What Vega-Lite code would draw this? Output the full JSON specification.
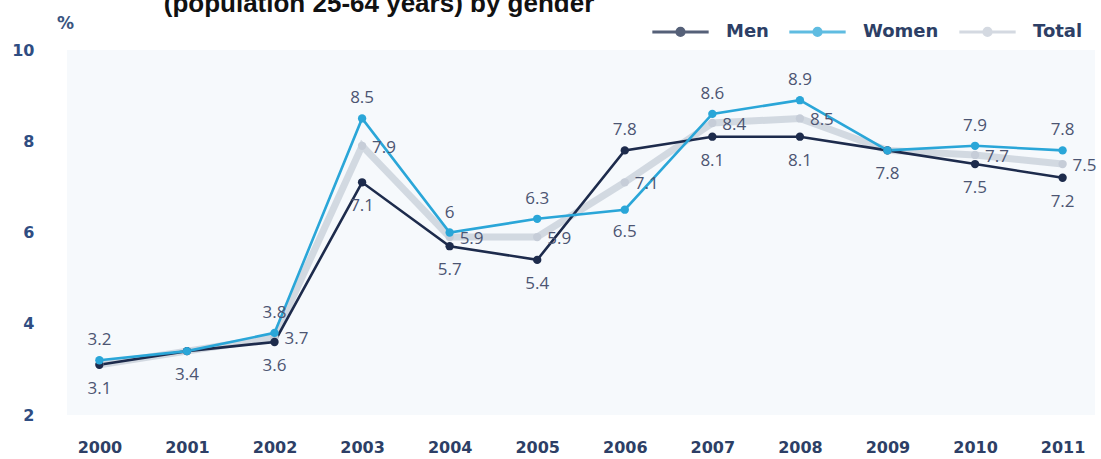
{
  "$schema": "https://vega.github.io/schema/vega-lite/v6.json",
  "width": 1101,
  "height": 459,
  "autosize": {"type": "fit", "contains": "padding"},
  "padding": {"left": -6, "right": 6, "top": -9, "bottom": 4},
  "background": "white",
  "title": {
    "text": "(population 25-64 years) by gender",
    "anchor": "start",
    "dx": 152,
    "fontSize": 26,
    "font": "Liberation Sans",
    "fontWeight": "bold",
    "color": "#111111",
    "offset": -3
  },
  "config": {
    "view": {"fill": "#f6f9fc", "stroke": null},
    "axis": {"grid": false, "domain": false, "ticks": false}
  },
  "data": {
    "values": [
      {"year": "2000", "Men": 3.1, "Women": 3.2, "Total": 3.1},
      {"year": "2001", "Men": 3.4, "Women": 3.4, "Total": 3.4},
      {"year": "2002", "Men": 3.6, "Women": 3.8, "Total": 3.7},
      {"year": "2003", "Men": 7.1, "Women": 8.5, "Total": 7.9},
      {"year": "2004", "Men": 5.7, "Women": 6.0, "Total": 5.9},
      {"year": "2005", "Men": 5.4, "Women": 6.3, "Total": 5.9},
      {"year": "2006", "Men": 7.8, "Women": 6.5, "Total": 7.1},
      {"year": "2007", "Men": 8.1, "Women": 8.6, "Total": 8.4},
      {"year": "2008", "Men": 8.1, "Women": 8.9, "Total": 8.5},
      {"year": "2009", "Men": 7.8, "Women": 7.8, "Total": 7.8},
      {"year": "2010", "Men": 7.5, "Women": 7.9, "Total": 7.7},
      {"year": "2011", "Men": 7.2, "Women": 7.8, "Total": 7.5}
    ]
  },
  "encoding": {
    "x": {
      "field": "year",
      "type": "ordinal",
      "scale": {"type": "point", "padding": 0.37},
      "axis": {
        "title": null,
        "labelAngle": 0,
        "labelFont": "DejaVu Sans",
        "labelFontWeight": "bold",
        "labelFontSize": 16,
        "labelColor": "#2d3f66",
        "labelPadding": 24
      }
    }
  },
  "layer": [
    {
      "transform": [{"fold": ["Total"], "as": ["series", "value"]}],
      "mark": {"type": "line", "strokeWidth": 7, "opacity": 0.75},
      "encoding": {
        "y": {
          "field": "value",
          "type": "quantitative",
          "scale": {"domain": [2, 10], "nice": false, "zero": false},
          "axis": {
            "values": [2, 4, 6, 8, 10],
            "title": "%",
            "titleAngle": 0,
            "titleX": -2,
            "titleY": -18,
            "titleAlign": "center",
            "titleFont": "DejaVu Sans",
            "titleFontSize": 17,
            "titleFontWeight": "bold",
            "titleColor": "#3a557f",
            "labelFont": "DejaVu Sans",
            "labelFontWeight": "bold",
            "labelFontSize": 16,
            "labelColor": "#2f4d82",
            "labelPadding": 33
          }
        },
        "color": {
          "field": "series",
          "type": "nominal",
          "scale": {"domain": ["Men", "Women", "Total"], "range": ["#1d2b4c", "#2aa6d8", "#c6cdd8"]},
          "legend": {
            "title": null,
            "orient": "none",
            "legendX": 589,
            "legendY": -43,
            "direction": "horizontal",
            "symbolType": "M-1.25,0H1.25M0.16,0A0.16,0.16,0,1,1,-0.16,0A0.16,0.16,0,1,1,0.16,0Z",
            "symbolSize": 2030,
            "symbolStrokeWidth": 3,
            "labelFont": "DejaVu Sans",
            "labelFontWeight": "bold",
            "labelFontSize": 18,
            "labelColor": "#2d3f66",
            "labelOffset": 21,
            "columnPadding": 14,
            "encode": {
              "symbols": {
                "update": {
                  "fill": {"scale": "color", "field": "value"},
                  "stroke": {"scale": "color", "field": "value"},
                  "opacity": {"value": 1}
                }
              }
            }
          }
        }
      }
    },
    {
      "transform": [{"fold": ["Men", "Women"], "as": ["series", "value"]}],
      "mark": {"type": "line", "strokeWidth": 2.6},
      "encoding": {
        "y": {"field": "value", "type": "quantitative"},
        "color": {"field": "series", "type": "nominal"}
      }
    },
    {
      "transform": [{"fold": ["Total", "Men", "Women"], "as": ["series", "value"]}],
      "mark": {"type": "circle", "size": 70, "opacity": 1},
      "encoding": {
        "y": {"field": "value", "type": "quantitative"},
        "color": {"field": "series", "type": "nominal"}
      }
    },
    {
      "transform": [{"filter": "datum.Women >= datum.Men && !(datum.Women == datum.Men && datum.Men == datum.Total)"}],
      "mark": {"type": "text", "dy": -20, "fontSize": 17, "font": "Open Sans", "color": "#4c5572"},
      "encoding": {
        "y": {"field": "Women", "type": "quantitative"},
        "text": {"field": "Women", "type": "quantitative", "format": "~g"}
      }
    },
    {
      "transform": [{"filter": "datum.Women < datum.Men"}],
      "mark": {"type": "text", "dy": 22, "fontSize": 17, "font": "Open Sans", "color": "#4c5572"},
      "encoding": {
        "y": {"field": "Women", "type": "quantitative"},
        "text": {"field": "Women", "type": "quantitative", "format": "~g"}
      }
    },
    {
      "transform": [{"filter": "datum.Men <= datum.Women"}],
      "mark": {"type": "text", "dy": 24, "fontSize": 17, "font": "Open Sans", "color": "#4c5572"},
      "encoding": {
        "y": {"field": "Men", "type": "quantitative"},
        "text": {"field": "Men", "type": "quantitative", "format": "~g"}
      }
    },
    {
      "transform": [{"filter": "datum.Men > datum.Women"}],
      "mark": {"type": "text", "dy": -20, "fontSize": 17, "font": "Open Sans", "color": "#4c5572"},
      "encoding": {
        "y": {"field": "Men", "type": "quantitative"},
        "text": {"field": "Men", "type": "quantitative", "format": "~g"}
      }
    },
    {
      "transform": [{"filter": "datum.Total != datum.Men && datum.Total != datum.Women"}],
      "mark": {"type": "text", "align": "left", "dx": 10, "dy": 2, "fontSize": 17, "font": "Open Sans", "color": "#4c5572"},
      "encoding": {
        "y": {"field": "Total", "type": "quantitative"},
        "text": {"field": "Total", "type": "quantitative", "format": "~g"}
      }
    }
  ]
}
